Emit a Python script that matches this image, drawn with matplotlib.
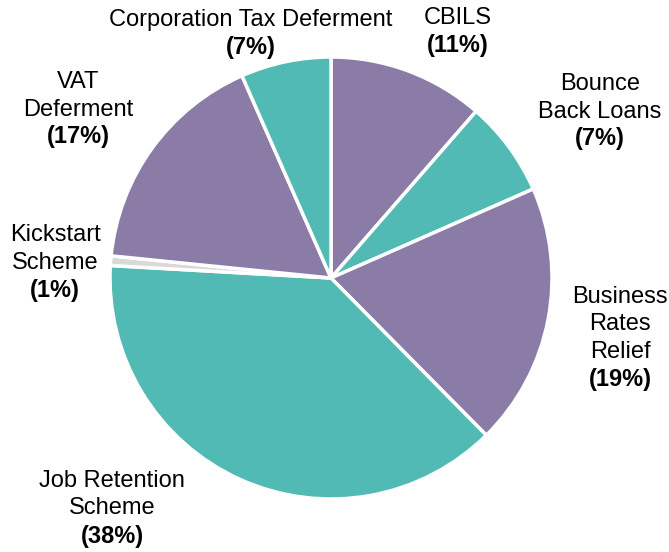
"""Share of COVID business support by scheme, drawn as a pie chart.

Produces out.png.
"""

import matplotlib.pyplot as plt

plt.rcParams["font.family"] = ["Liberation Sans", "DejaVu Sans"]

SCHEMES = [
    "CBILS",
    "Bounce\nBack Loans",
    "Business\nRates\nRelief",
    "Job Retention\nScheme",
    "Kickstart\nScheme",
    "VAT\nDeferment",
    "Corporation Tax Deferment",
]
SHARES = [11.4, 7.0, 19.2, 38.3, 0.7, 16.8, 6.6]

PURPLE = "#8b7ba7"
TEAL = "#52bab4"
GREY = "#d9d9d9"
COLORS = [PURPLE, TEAL, PURPLE, TEAL, GREY, PURPLE, TEAL]

# label anchors in figure pixels (x centre, y of first line from top)
LABEL_POS = [
    (458, 18),
    (600, 84),
    (620, 297),
    (112, 481),
    (55, 235),
    (78, 82),
    (251, 20),
]

W, H = 669, 552
CX, CY, R = 331, 278, 221
LINE = 27.5
FS = 17


def main() -> None:
    fig = plt.figure(figsize=(W / 100, H / 100), dpi=100)
    ax = fig.add_axes([(CX - R) / W, (H - CY - R) / H, 2 * R / W, 2 * R / H])
    ax.pie(
        SHARES,
        colors=COLORS,
        startangle=90,
        counterclock=False,
        radius=1.0,
        wedgeprops={"edgecolor": "white", "linewidth": 2.5},
    )
    ax.set_xlim(-1.0, 1.0)
    ax.set_ylim(-1.0, 1.0)
    ax.set_aspect("equal")
    ax.axis("off")

    total = sum(SHARES)
    for name, share, (x, y) in zip(SCHEMES, SHARES, LABEL_POS):
        lines = name.split("\n")
        for i, line in enumerate(lines):
            fig.text(x / W, 1 - (y + i * LINE) / H, line, ha="center", va="center",
                     fontsize=FS, color="black")
        pct = f"({share / total * 100:.0f}%)"
        fig.text(x / W, 1 - (y + len(lines) * LINE) / H, pct, ha="center", va="center",
                 fontsize=FS, fontweight="bold", color="black")

    fig.savefig("out.png", dpi=100)


if __name__ == "__main__":
    main()
